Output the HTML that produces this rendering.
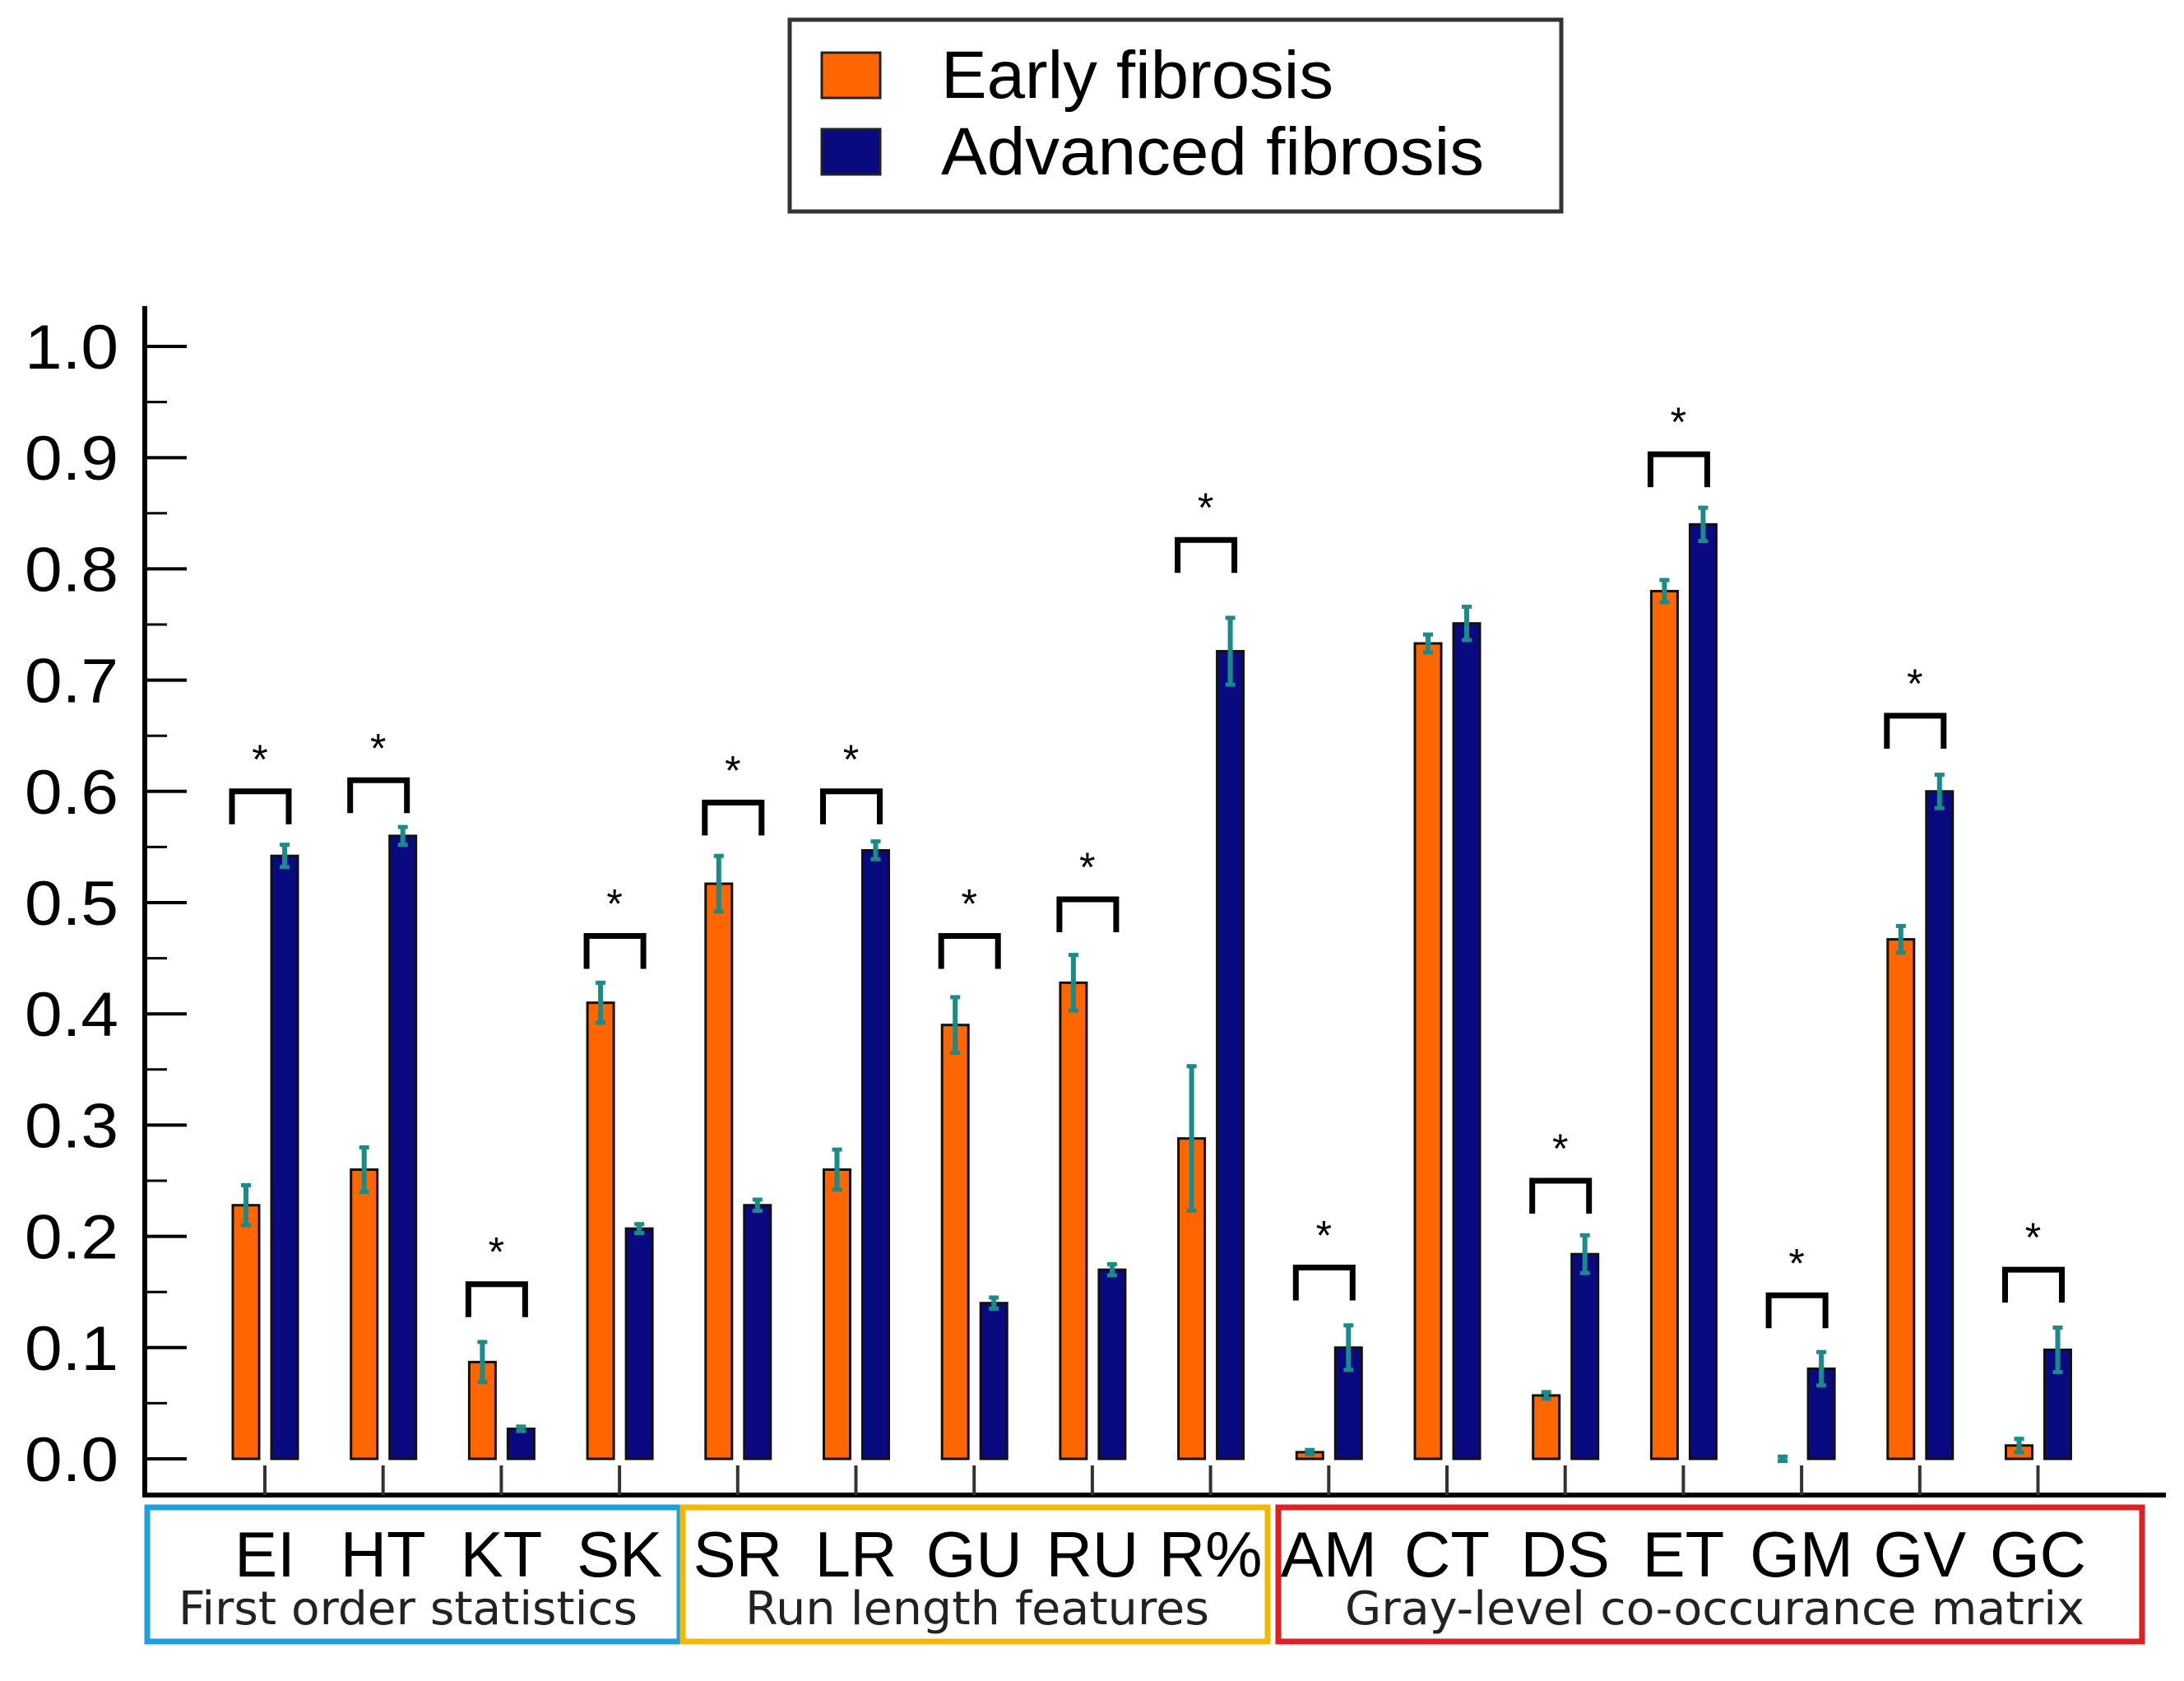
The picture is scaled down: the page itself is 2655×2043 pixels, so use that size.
<!DOCTYPE html>
<html><head><meta charset="utf-8">
<style>
html,body{margin:0;padding:0;background:#fff;}
svg{display:block;}
text{font-family:"Liberation Sans",Arial,sans-serif;}
.grp{font-family:"DejaVu Sans","Liberation Sans",sans-serif;}
</style></head>
<body>
<svg id="chart" width="2655" height="2043" viewBox="0 0 2655 2043" xmlns="http://www.w3.org/2000/svg">
  <g id="legend">
    <rect x="960" y="24" width="938" height="233" fill="#fff" stroke="#333" stroke-width="5"/>
    <rect x="999" y="64" width="71" height="55" fill="#ff6600" stroke="#222" stroke-width="3"/>
    <text x="1144" y="119" font-size="82" textLength="477" lengthAdjust="spacingAndGlyphs">Early fibrosis</text>
    <rect x="999" y="157" width="71" height="55" fill="#0a0a80" stroke="#222" stroke-width="3"/>
    <text x="1144" y="212" font-size="82" textLength="660" lengthAdjust="spacingAndGlyphs">Advanced fibrosis</text>
  </g>
  <g id="axes"></g>
  <g id="bars"></g>
  <g id="sig"></g>
  <g id="groups"></g>
</svg>
<script>
const categories = ["EI","HT","KT","SK","SR","LR","GU","RU","R%","AM","CT","DS","ET","GM","GV","GC"];
const earlyValues = [0.228,0.26,0.087,0.41,0.517,0.26,0.39,0.428,0.288,0.006,0.733,0.057,0.78,0.0,0.467,0.012];
const earlyErrors = [0.018,0.02,0.018,0.018,0.025,0.018,0.025,0.025,0.065,0.002,0.008,0.003,0.01,0.002,0.012,0.006];
const advancedValues = [0.542,0.56,0.027,0.207,0.228,0.547,0.14,0.17,0.726,0.1,0.751,0.184,0.84,0.081,0.6,0.098];
const advancedErrors = [0.01,0.008,0.002,0.004,0.005,0.008,0.005,0.005,0.03,0.02,0.015,0.017,0.015,0.015,0.015,0.02];
const significant = [true,true,true,true,true,true,true,true,true,true,false,true,true,true,true,true];
const bracketLevels = [0.60,0.61,0.157,0.47,0.59,0.60,0.47,0.503,0.826,0.172,0,0.25,0.903,0.147,0.668,0.17];
const yTicks = [0,0.1,0.2,0.3,0.4,0.5,0.6,0.7,0.8,0.9,1.0];
const groupNames = ["First order statistics","Run length features","Gray-level co-occurance matrix"];

const NS="http://www.w3.org/2000/svg";
const X0=176, Y0=1773, Y1=421;
const y = v => Y0 - (Y0-Y1)*v;
const xc = i => 322 + i*143.7;
function mk(tag, attrs, parent){const e=document.createElementNS(NS,tag);for(const k in attrs)e.setAttribute(k,attrs[k]);parent.appendChild(e);return e;}

const axes=document.getElementById('axes');
let e;
e=mk('line',{x1:X0,y1:372,x2:X0,y2:1817,stroke:'#000','stroke-width':6},axes);


e=mk('line',{x1:X0-3,y1:1817,x2:2633,y2:1817,stroke:'#000','stroke-width':6},axes);


yTicks.forEach((t,i)=>{
  const tk=mk('line',{x1:X0,y1:y(t),x2:X0+51,y2:y(t),stroke:'#000','stroke-width':4},axes);
  
  
  const lb=mk('text',{x:30,y:y(t)+27,'font-size':76,textLength:114,lengthAdjust:'spacingAndGlyphs'},axes);
  lb.textContent=t.toFixed(1);
  
  
  if(i<yTicks.length-1){
    const mn=mk('line',{x1:X0,y1:y(t+0.05),x2:X0+27,y2:y(t+0.05),stroke:'#000','stroke-width':3},axes);
    
    
  }
});

const bars=document.getElementById('bars');
function errBar(cx,v,err,g){
  const eb=mk('g',{},g);
  
  
  mk('line',{x1:cx,y1:y(v+err),x2:cx,y2:y(v-err),stroke:'#1a8a8a','stroke-width':6},eb);
  mk('line',{x1:cx-6,y1:y(v+err),x2:cx+6,y2:y(v+err),stroke:'#1a8a8a','stroke-width':5},eb);
  mk('line',{x1:cx-6,y1:y(v-err),x2:cx+6,y2:y(v-err),stroke:'#1a8a8a','stroke-width':5},eb);
}
categories.forEach((c,i)=>{
  const cx=xc(i);
  const ov=earlyValues[i], av=advancedValues[i];
  if(ov>0.001){
    const r=mk('rect',{x:cx-39,y:y(ov),width:32,height:Y0-y(ov),fill:'#ff6600',stroke:'#111','stroke-width':3},bars);
    
    
  }
  errBar(cx-23,ov,earlyErrors[i],bars);
  const r2=mk('rect',{x:cx+8,y:y(av),width:32,height:Y0-y(av),fill:'#0a0a80',stroke:'#111','stroke-width':3},bars);
  
  
  errBar(cx+24,av,advancedErrors[i],bars);
  const tk=mk('line',{x1:cx,y1:1781,x2:cx,y2:1817,stroke:'#333','stroke-width':4},bars);
  
  
  const lb=mk('text',{x:cx,y:1916,'font-size':78,'text-anchor':'middle'},bars);
  lb.textContent=c;
  
  
});

const sig=document.getElementById('sig');
categories.forEach((c,i)=>{
  if(!significant[i])return;
  const cx=xc(i), by=y(bracketLevels[i]);
  const p=mk('path',{d:`M${cx-40},${by+40} V${by} H${cx+29} V${by+40}`,fill:'none',stroke:'#000','stroke-width':7},sig);
  
  
  const s=mk('text',{x:cx-6,y:by-22,'font-size':50,'text-anchor':'middle'},sig);
  s.textContent='*';
  
  
});

const groups=document.getElementById('groups');
const boxes=[[179,826,'#1ea0e0'],[830,1541,'#f5b800'],[1554,2604,'#e02020']];
const gx=[217,906,1635], gw=[558,564,899];
boxes.forEach((b,i)=>{
  const r=mk('rect',{x:b[0],y:1832,width:b[1]-b[0],height:163,fill:'none',stroke:b[2],'stroke-width':7},groups);
  
  
  const t=mk('text',{x:gx[i],y:1974,'font-size':56,class:'grp',fill:'#222',textLength:gw[i],lengthAdjust:'spacingAndGlyphs'},groups);
  t.textContent=groupNames[i];
  
  
});
</script>
</body></html>
